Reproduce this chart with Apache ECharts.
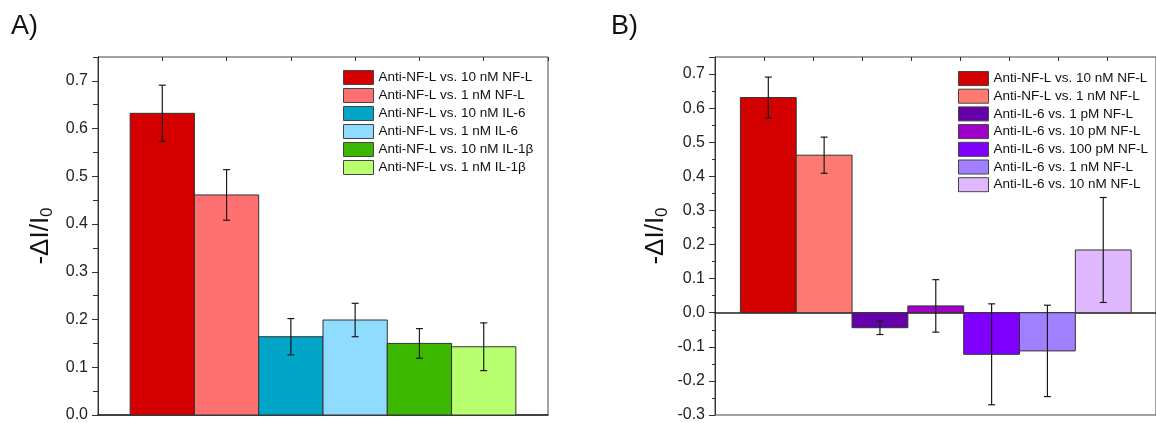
<!DOCTYPE html>
<html>
<head>
<meta charset="utf-8">
<script src="https://cdn.jsdelivr.net/npm/echarts@6/dist/echarts.min.js"></script>
<style>
  html, body { margin: 0; padding: 0; background: #fff; overflow: hidden; }
  #chart { width: 1156px; height: 423px; }
</style>
</head>
<body>
<div id="chart"></div>
<script>
// Panel A: Anti-NF-L probe against different targets
const labelsA = [
  'Anti-NF-L vs. 10 nM NF-L',
  'Anti-NF-L vs. 1 nM NF-L',
  'Anti-NF-L vs. 10 nM IL-6',
  'Anti-NF-L vs. 1 nM IL-6',
  'Anti-NF-L vs. 10 nM IL-1β',
  'Anti-NF-L vs. 1 nM IL-1β'
];
const valuesA = [0.632, 0.461, 0.164, 0.199, 0.150, 0.143];
const errorsA = [0.059, 0.053, 0.038, 0.035, 0.031, 0.050];

// Panel B: Anti-NF-L vs. Anti-IL-6 probes against NF-L
const labelsB = [
  'Anti-NF-L vs. 10 nM NF-L',
  'Anti-NF-L vs. 1 nM NF-L',
  'Anti-IL-6 vs. 1 pM NF-L',
  'Anti-IL-6 vs. 10 pM NF-L',
  'Anti-IL-6 vs. 100 pM NF-L',
  'Anti-IL-6 vs. 1 nM NF-L',
  'Anti-IL-6 vs. 10 nM NF-L'
];
const valuesB = [0.631, 0.462, -0.044, 0.020, -0.122, -0.112, 0.184];
const errorsB = [0.060, 0.053, 0.020, 0.077, 0.148, 0.134, 0.154];

const yTicksA = { min: 0, max: 0.75, step: 0.1 };
const yTicksB = { min: -0.3, max: 0.75, step: 0.1 };

// fill colours
const colorsA = ['#d40000', '#ff7171', '#00a5c8', '#8fdcff', '#3cb800', '#b8ff70'];
const colorsB = ['#d40000', '#ff7a70', '#6600aa', '#a000c8', '#7f00ff', '#a080ff', '#e0b8ff'];

const FONT = 'Liberation Sans, Arial, sans-serif';
const EDGE = '#333';

function renderBar(params, api) {
  const x = api.value(0), v = api.value(1), e = api.value(2);
  const a = api.coord([x - 0.5, 0]);
  const b = api.coord([x + 0.5, v]);
  const hi = api.coord([x, v + e]);
  const lo = api.coord([x, v - e]);
  const cap = 3.5;
  const errStyle = { stroke: '#1a1a1a', lineWidth: 1.2 };
  return {
    type: 'group',
    children: [
      {
        type: 'rect',
        shape: { x: a[0], y: Math.min(a[1], b[1]), width: b[0] - a[0], height: Math.abs(b[1] - a[1]) },
        style: { fill: api.visual('color'), stroke: EDGE, lineWidth: 1 }
      },
      { type: 'line', shape: { x1: hi[0], y1: hi[1], x2: lo[0], y2: lo[1] }, style: errStyle },
      { type: 'line', shape: { x1: hi[0] - cap, y1: hi[1], x2: hi[0] + cap, y2: hi[1] }, style: errStyle },
      { type: 'line', shape: { x1: lo[0] - cap, y1: lo[1], x2: lo[0] + cap, y2: lo[1] }, style: errStyle }
    ]
  };
}

function barSeries(labels, values, errors, colors, xAxisIndex, yAxisIndex) {
  return labels.map((name, i) => ({
    type: 'custom',
    name: name,
    xAxisIndex: xAxisIndex,
    yAxisIndex: yAxisIndex,
    itemStyle: { color: colors[i], borderColor: EDGE, borderWidth: 1 },
    encode: { x: 0, y: 1 },
    renderItem: renderBar,
    data: [[i + 1, values[i], errors[i]]],
    z: 3
  }));
}

function legendFor(labels, colors, left, top, gap) {
  return {
    orient: 'vertical',
    left: left,
    top: top,
    padding: 0,
    itemWidth: 30,
    itemHeight: 14,
    itemGap: gap,
    icon: 'rect',
    selectedMode: false,
    textStyle: { fontFamily: FONT, fontSize: 13.5, color: '#111', lineHeight: 14 },
    data: labels.map((name, i) => ({
      name: name,
      itemStyle: { color: colors[i], borderColor: '#444', borderWidth: 1 }
    }))
  };
}

const yName = '{m|-ΔI/I}{s|0}';
const yNameStyle = {
  fontFamily: FONT,
  color: '#111',
  rich: {
    m: { fontFamily: FONT, fontSize: 26, lineHeight: 30, color: '#111' },
    s: { fontFamily: FONT, fontSize: 17, lineHeight: 17, padding: [13, 0, 0, 0], color: '#111' }
  }
};

const fmt1 = v => v.toFixed(1);

const topTicks = {
  axisLine: { show: false, onZero: false },
  axisTick: { show: true, inside: true, length: 4, lineStyle: { color: '#333', width: 1 } },
  axisLabel: { show: false },
  splitLine: { show: false }
};

const option = {
  animation: false,
  backgroundColor: '#fff',
  title: [
    { text: 'A)', left: 11, top: 13, padding: 0, textStyle: { fontFamily: FONT, fontSize: 27, fontWeight: 'normal', color: '#111' } },
    { text: 'B)', left: 611, top: 13, padding: 0, textStyle: { fontFamily: FONT, fontSize: 27, fontWeight: 'normal', color: '#111' } }
  ],
  grid: [
    { left: 98, top: 57, width: 450, height: 361, show: true, borderColor: '#444', borderWidth: 1, backgroundColor: 'transparent' },
    { left: 715, top: 57, width: 451, height: 361, show: true, borderColor: '#444', borderWidth: 1, backgroundColor: 'transparent' }
  ],
  legend: [
    legendFor(labelsA, colorsA, 343, 70, 3),
    legendFor(labelsB, colorsB, 958, 71, 2.7)
  ],
  xAxis: [
    // A: bar positions, bottom frame line
    { gridIndex: 0, type: 'value', min: 0, max: 7, position: 'bottom',
      axisLine: { show: true, onZero: false, lineStyle: { color: '#222', width: 1.5 } },
      axisTick: { show: false }, axisLabel: { show: false }, splitLine: { show: false } },
    // A: top ticks at bar centres
    Object.assign({ gridIndex: 0, type: 'value', min: 0, max: 7, interval: 1, position: 'top' }, topTicks),
    // B: bar positions, zero line
    { gridIndex: 1, type: 'value', min: 0.045, max: 7.945, position: 'bottom',
      axisLine: { show: true, onZero: true, lineStyle: { color: '#222', width: 1.6 } },
      axisTick: { show: false }, axisLabel: { show: false }, splitLine: { show: false } },
    // B: top ticks
    Object.assign({ gridIndex: 1, type: 'value', min: 0, max: 9, interval: 1, position: 'top' }, topTicks)
  ],
  yAxis: [
    { gridIndex: 0, type: 'value', min: yTicksA.min, max: yTicksA.max, interval: yTicksA.step, position: 'left',
      name: yName, nameLocation: 'middle', nameGap: 42, nameRotate: 90, nameTextStyle: yNameStyle,
      axisLine: { show: true, lineStyle: { color: '#333', width: 1 } },
      axisTick: { show: true, inside: false, length: 6, lineStyle: { color: '#333' } },
      axisLabel: { show: true, showMaxLabel: false, margin: 10, formatter: fmt1, fontFamily: FONT, fontSize: 16, color: '#222' },
      splitLine: { show: false } },
    { gridIndex: 0, type: 'value', min: yTicksA.min, max: yTicksA.max, interval: yTicksA.step / 2, position: 'right',
      axisLine: { show: true, lineStyle: { color: '#333', width: 1 } },
      axisTick: { show: true, inside: true, length: 5, lineStyle: { color: '#333' } },
      axisLabel: { show: false }, splitLine: { show: false } },
    { gridIndex: 1, type: 'value', min: yTicksB.min, max: yTicksB.max, interval: yTicksB.step, position: 'left',
      name: yName, nameLocation: 'middle', nameGap: 44, nameRotate: 90, nameTextStyle: yNameStyle,
      axisLine: { show: true, lineStyle: { color: '#333', width: 1 } },
      axisTick: { show: true, inside: false, length: 6, lineStyle: { color: '#333' } },
      minorTick: { show: true, splitNumber: 2, length: 3, lineStyle: { color: '#333' } },
      axisLabel: { show: true, showMaxLabel: false, margin: 10, formatter: fmt1, fontFamily: FONT, fontSize: 16, color: '#222' },
      splitLine: { show: false } }
  ],
  series: [].concat(
    barSeries(labelsA, valuesA, errorsA, colorsA, 0, 0),
    barSeries(labelsB, valuesB, errorsB, colorsB, 2, 2)
  )
};

const chart = echarts.init(document.getElementById('chart'), null, { renderer: 'canvas' });
chart.setOption(option);
</script>
</body>
</html>
